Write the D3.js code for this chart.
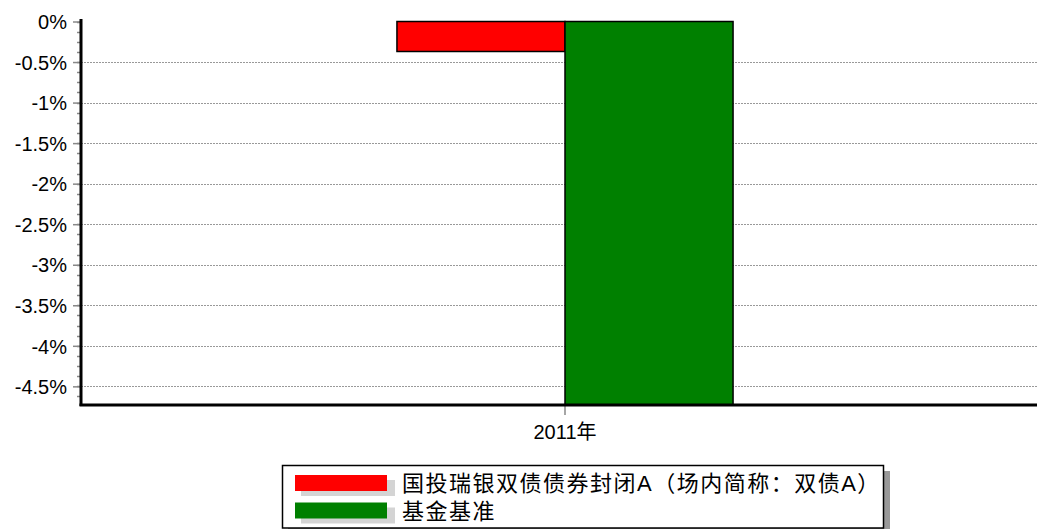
<!DOCTYPE html>
<html><head><meta charset="utf-8">
<script src="https://cdn.jsdelivr.net/npm/d3@7"></script>
<style>html,body{margin:0;padding:0;background:#fff;}svg{display:block;}</style>
</head><body>
<script>
const categories = ["2011年"];
const seriesNames = ["国投瑞银双债债券封闭A（场内简称：双债A）", "基金基准"];
const seriesColors = ["#ff0000", "#008000"];
const fundValues = [-0.37];
const benchValues = [-4.73];
const yTicks = [0, -0.5, -1, -1.5, -2, -2.5, -3, -3.5, -4, -4.5];
const yTickLabels = ["0%", "-0.5%", "-1%", "-1.5%", "-2%", "-2.5%", "-3%", "-3.5%", "-4%", "-4.5%"];

(function () {
const W = 1037, H = 529;
const svg = d3.select("body").append("svg").attr("width", W).attr("height", H);

const mLeft = 81, mRight = 1049, mTop = 21.5, mBottom = 405;
const y = d3.scaleLinear().domain([-4.73, 0]).range([mBottom, mTop]);
const x0 = d3.scaleBand().domain(categories).range([mLeft, mRight]).paddingInner(0).paddingOuter(0.94);
const x1 = d3.scaleBand().domain([0, 1]).range([0, x0.bandwidth()]);

// gridlines
svg.append("g").selectAll("line").data(yTicks.filter(d => d !== 0)).join("line")
  .attr("x1", mLeft).attr("x2", W).attr("y1", d => Math.round(y(d)) + 0.5).attr("y2", d => Math.round(y(d)) + 0.5)
  .attr("stroke", "#999").attr("stroke-width", 1).attr("stroke-dasharray", "2,1");

// minor ticks
const minor = d3.range(0, 38).map(i => -i * 0.125).filter(v => v >= -4.73);
svg.append("g").selectAll("line").data(minor).join("line")
  .attr("x1", 77).attr("x2", mLeft).attr("y1", d => Math.round(y(d)) + 0.5).attr("y2", d => Math.round(y(d)) + 0.5)
  .attr("stroke", "#888").attr("stroke-width", 1.5);

// major ticks + labels
const yAxis = d3.axisLeft(y).tickValues(yTicks).tickFormat((d, i) => yTickLabels[i]).tickSize(8).tickPadding(6);
const gy = svg.append("g").attr("transform", `translate(${mLeft},0)`).call(yAxis);
gy.select(".domain").remove();
gy.selectAll(".tick line").attr("stroke", "#888").attr("stroke-width", 1.5);
gy.selectAll(".tick text").attr("font-family", "'Liberation Sans', Arial, sans-serif").attr("font-size", 20).attr("fill", "#000").attr("dy", "0.36em");

// bars
const data = categories.map((c, i) => ({ c, vals: [fundValues[i], benchValues[i]] }));
const g = svg.append("g");
data.forEach(d => {
  d.vals.forEach((v, j) => {
    g.append("rect")
      .attr("x", x0(d.c) + x1(j))
      .attr("y", y(Math.max(0, v)))
      .attr("width", x1.bandwidth())
      .attr("height", Math.abs(y(v) - y(0)))
      .attr("fill", seriesColors[j])
      .attr("stroke", "#000").attr("stroke-width", 1.5);
  });
});

// x axis
const xAxis = d3.axisBottom(x0).tickSize(10).tickPadding(10);
const gx = svg.append("g").attr("transform", `translate(0,${mBottom})`).call(xAxis);
gx.select(".domain").remove();
gx.selectAll(".tick line").attr("stroke", "#888").attr("stroke-width", 1.5);
gx.selectAll(".tick text").attr("font-family", "'Liberation Sans', 'Noto Sans CJK SC', sans-serif").attr("font-size", 20).attr("fill", "#000");

// axis lines
svg.append("line").attr("x1", mLeft).attr("x2", mLeft).attr("y1", 19).attr("y2", mBottom + 1).attr("stroke", "#000").attr("stroke-width", 3);
svg.append("line").attr("x1", mLeft - 1.5).attr("x2", W).attr("y1", mBottom).attr("y2", mBottom).attr("stroke", "#000").attr("stroke-width", 3);

// legend
const lg = svg.append("g");
lg.append("rect").attr("x", 288).attr("y", 471).attr("width", 602).attr("height", 62).attr("fill", "#999");
lg.append("rect").attr("x", 282.5).attr("y", 465.5).attr("width", 601).attr("height", 62.5).attr("fill", "#fff").attr("stroke", "#000").attr("stroke-width", 1.5);
seriesNames.forEach((n, i) => {
  const cy = 483 + i * 27.5;
  lg.append("rect").attr("x", 301).attr("y", cy - 3).attr("width", 94).attr("height", 16).attr("fill", "#d4d4d4");
  lg.append("rect").attr("x", 295).attr("y", cy - 8).attr("width", 92).attr("height", 16).attr("fill", seriesColors[i]);
  lg.append("text").attr("x", 402).attr("y", cy).attr("dy", "0.38em")
    .attr("font-family", "'Liberation Sans', 'Noto Sans CJK SC', sans-serif").attr("font-size", 22).attr("letter-spacing", 1.5)
    .attr("fill", "#000").text(n);
});
})();
</script>
</body></html>
